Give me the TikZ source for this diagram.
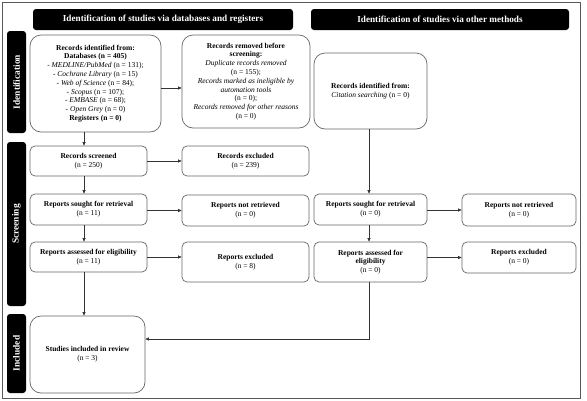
\documentclass[tikz,border=0pt]{standalone}
\usepackage{fontspec}
\setmainfont{Liberation Serif}
\usetikzlibrary{arrows.meta,calc}
\begin{document}
\begin{tikzpicture}[x=1pt,y=-1pt,
  box/.style={draw=black!60,line width=0.7pt,rounded corners=5pt,align=center,inner sep=1pt,
    font=\fontsize{7.5}{8.8}\selectfont},
  bigbox/.style={box,rounded corners=11pt},
  hdr/.style={fill=black,rounded corners=3pt,text=white,font=\bfseries\fontsize{9.2}{10}\selectfont,minimum height=21pt},
  side/.style={fill=black,rounded corners=3pt,text=white,font=\bfseries\fontsize{9.4}{10}\selectfont,rotate=90,minimum height=19pt},
  arr/.style={draw=black!80,line width=0.6pt,-{Triangle[length=3.5pt,width=3pt]}},
  ln/.style={draw=black!60,line width=0.7pt}]
\draw[draw=black!65,line width=0.8pt] (2,2) rectangle (580,398);
\path[use as bounding box] (0,0) rectangle (587,400);
% headers
\node[hdr,minimum width=260pt] (h1) at (163,19.5) {Identification of studies via databases and registers};
\node[hdr,minimum width=258pt] (h2) at (440,19.5) {Identification of studies via other methods};
% side bars
\node[side,minimum width=102pt] (s1) at (16.5,82) {Identification};
\node[side,minimum width=164pt] (s2) at (16.5,224) {Screening};
\node[side,minimum width=79pt] (s3) at (16.5,353.5) {Included};
% left column
\node[bigbox,minimum width=131pt,minimum height=97pt] (rec) at (95.5,83.5) {\textbf{Records identified from:}\\ \textbf{Databases (n = 405)}\\ - \textit{MEDLINE/PubMed} (n = 131);\\ - \textit{Cochrane Library} (n = 15)\\ - \textit{Web of Science} (n = 84);\\ - \textit{Scopus} (n = 107);\\ - \textit{EMBASE} (n = 68);\\ - \textit{Open Grey} (n = 0)\\ \textbf{Registers (n = 0)}};
\node[bigbox,minimum width=128pt,minimum height=93pt] (rem) at (246,81.5) {\textbf{Records removed before}\\ \textbf{screening:}\\ \textit{Duplicate records removed}\\ (n = 155);\\ \textit{Records marked as ineligible by}\\ \textit{automation tools}\\ (n = 0);\\ \textit{Records removed for other reasons}\\ (n = 0)};
\node[box,minimum width=117pt,minimum height=30pt] (scr) at (88.5,161) {\textbf{Records screened}\\ (n = 250)};
\node[box,minimum width=127pt,minimum height=30pt] (exc) at (245.5,161) {\textbf{Records excluded}\\ (n = 239)};
\node[box,minimum width=117pt,minimum height=31pt] (sou) at (88.5,209.5) {\textbf{Reports sought for retrieval}\\ (n = 11)};
\node[box,minimum width=127pt,minimum height=31pt] (nre) at (245.5,210.5) {\textbf{Reports not retrieved}\\ (n = 0)};
\node[box,minimum width=117pt,minimum height=30pt] (ass) at (88.5,257) {\textbf{Reports assessed for eligibility}\\ (n = 11)};
\node[box,minimum width=127pt,minimum height=40pt] (rex) at (245.5,262) {\textbf{Reports excluded}\\ (n = 8)};
\node[bigbox,minimum width=115pt,minimum height=77pt] (inc) at (87.5,354.5) {\textbf{Studies included in review}\\ (n = 3)};
% right column
\node[bigbox,minimum width=113pt,minimum height=76pt] (oth) at (370.5,91) {\textbf{Records identified from:}\\ \textit{Citation searching} (n = 0)};
\node[box,minimum width=113pt,minimum height=31pt] (sou2) at (370.5,209.5) {\textbf{Reports sought for retrieval}\\ (n = 0)};
\node[box,minimum width=114pt,minimum height=32pt] (nre2) at (519,210) {\textbf{Reports not retrieved}\\ (n = 0)};
\node[box,minimum width=113pt,minimum height=40pt] (ass2) at (370.5,262) {\textbf{Reports assessed for}\\ \textbf{eligibility}\\ (n = 0)};
\node[box,minimum width=114pt,minimum height=31pt] (rex2) at (519,257.5) {\textbf{Reports excluded}\\ (n = 0)};
% helper coordinates
\coordinate (lx) at (84,0);
\coordinate (rx) at (369,0);
\coordinate (y1) at (0,88);
\coordinate (y2) at (0,339);
% connectors
\draw[arr] (rec.south -| lx) -- (scr.north -| lx);
\draw[arr] (scr.south -| lx) -- (sou.north -| lx);
\draw[arr] (sou.south -| lx) -- (ass.north -| lx);
\draw[arr] (ass.south -| lx) -- (inc.north -| lx);
\draw[arr] (rec.east |- y1) -- (rem.west |- y1);
\draw[arr] (scr.east) -- (exc.west |- scr.east);
\draw[arr] (sou.east |- nre.west) -- (nre.west);
\draw[arr] (ass.east) -- (rex.west |- ass.east);
\draw[arr] (oth.south -| rx) -- (sou2.north -| rx);
\draw[arr] (sou2.south -| rx) -- (ass2.north -| rx);
\draw[arr] (sou2.east |- nre2.west) -- (nre2.west);
\draw[arr] (ass2.east |- rex2.west) -- (rex2.west);
\draw[arr] (ass2.south -| rx) |- (inc.east |- y2);
\end{tikzpicture}
\end{document}
